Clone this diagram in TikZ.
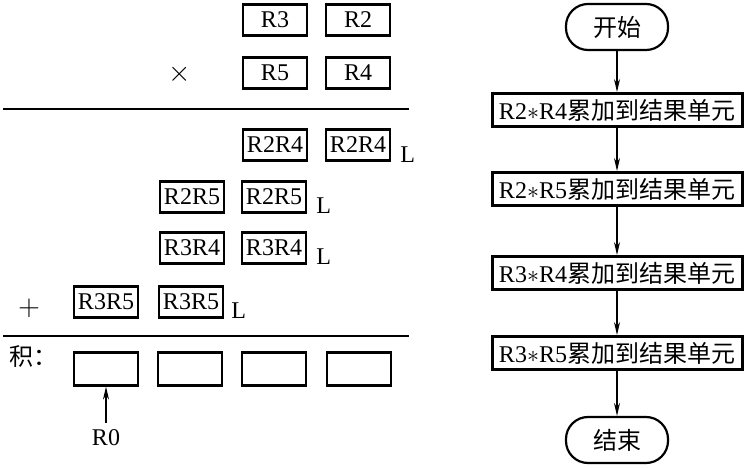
\documentclass[tikz,border=0pt]{standalone}
\usepackage{fontspec}
\setmainfont{Liberation Serif}
\newfontfamily\cjk{Noto Sans CJK SC}
\usetikzlibrary{arrows.meta,positioning}

\tikzset{
  reg/.style={draw, line width=1.1pt, minimum width=32pt, minimum height=15.5pt, inner sep=0pt},
  res/.style={draw, line width=1.1pt, minimum width=32pt, minimum height=16.5pt, inner sep=0pt},
  flow-box/.style={draw, line width=1.5pt, minimum width=125pt, minimum height=16.5pt, inner sep=0pt},
  flow-end/.style={draw, line width=1.1pt, rounded corners=11pt, minimum width=51pt, minimum height=23pt, inner sep=0pt},
  flow-arrow/.style={-{Stealth[length=6.5pt,width=3pt]}, line width=0.6pt},
  op-sign/.style={font=\fontsize{13.5pt}{16pt}\selectfont},
}

\begin{document}
\begin{tikzpicture}[x=0.5pt, y=-0.5pt, font=\fontsize{12pt}{14pt}\selectfont]
\useasboundingbox (0,0) rectangle (749,469);

\def\lenrule{409}

% multiplication
\node[reg] (r3) at (275,20) {R3};
\node[reg] (r2) at (358,20) {R2};
\node[op-sign] (times) at (180,74) {$\times$};
\node[reg] (r5) at (275,73) {R5};
\node[reg] (r4) at (358,73) {R4};
\draw[line width=1.1pt] (3,109) coordinate (rule1-l) -- (\lenrule,109) coordinate (rule1-r);

\node[reg] (r2r4-h) at (275,145) {R2R4};
\node[reg] (r2r4-l) at (358,145) {R2R4};
\node[anchor=west, inner sep=0pt] (r2r4-label) at (400,155) {L};

\node[reg] (r2r5-h) at (192,197) {R2R5};
\node[reg] (r2r5-l) at (274,197) {R2R5};
\node[anchor=west, inner sep=0pt] (r2r5-label) at (316,206) {L};

\node[reg] (r3r4-h) at (192,248) {R3R4};
\node[reg] (r3r4-l) at (274,248) {R3R4};
\node[anchor=west, inner sep=0pt] (r3r4-label) at (316,257) {L};

\node[op-sign] (plus) at (29,308) {$+$};
\node[reg] (r3r5-h) at (106,302) {R3R5};
\node[reg] (r3r5-l) at (191,302) {R3R5};
\node[anchor=west, inner sep=0pt] (r3r5-label) at (231,311) {L};
\draw[line width=1.1pt] (3,336) coordinate (rule2-l) -- (\lenrule,336) coordinate (rule2-r);

\node (prod-label) at (34,357) {\cjk 积：};
\node[res] (p1) at (106,369) {};
\node[res] (p2) at (190,369) {};
\node[res] (p3) at (274,369) {};
\node[res] (p4) at (359,369) {};
\node (r0) at (106,438) {R0};
\draw[flow-arrow] (r0) -- (p1);

% flow chart
\node[flow-end] (start) at (617,27) {\cjk 开始};
\node[flow-box] (step1) at (617,110) {R2$\ast$R4\cjk 累加到结果单元};
\node[flow-box] (step2) at (617,189) {R2$\ast$R5\cjk 累加到结果单元};
\node[flow-box] (step3) at (617,273) {R3$\ast$R4\cjk 累加到结果单元};
\node[flow-box] (step4) at (617,353) {R3$\ast$R5\cjk 累加到结果单元};
\node[flow-end] (stop) at (617,440) {\cjk 结束};

\draw[flow-arrow] (start) -- (step1);
\draw[flow-arrow] (step1) -- (step2);
\draw[flow-arrow] (step2) -- (step3);
\draw[flow-arrow] (step3) -- (step4);
\draw[flow-arrow] (step4) -- (stop);

\end{tikzpicture}
\end{document}
